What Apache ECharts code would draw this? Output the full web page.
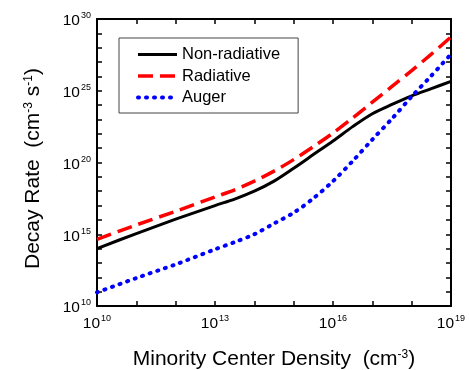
<!DOCTYPE html>
<html style="height: 100%">
    <head>
        <meta charset="utf-8">
        <title>Decay Rate</title>
        <script type="text/javascript" src="https://cdn.jsdelivr.net/npm/echarts@6/dist/echarts.min.js"></script>
    </head>
    <body style="height: 100%; margin: 0; background: #fff">
        <div id="container" style="width: 469px; height: 370px"></div>
        <script type="text/javascript">

        // exponents (log10)
        var densityExp = [10, 11, 12, 13, 13.5, 14, 14.5, 15, 15.5, 16, 16.5, 17, 17.5, 18, 18.5, 19];
        var nonRadiative = [14.0, 15.05, 16.05, 17.0, 17.45, 18.0, 18.7, 19.6, 20.55, 21.5, 22.5, 23.4, 24.05, 24.65, 25.15, 25.65];
        var radiative = [14.65, 15.65, 16.6, 17.6, 18.1, 18.7, 19.4, 20.2, 21.1, 22.05, 23.1, 24.2, 25.3, 26.4, 27.55, 28.75];
        var auger = [10.95, 11.95, 12.9, 13.95, 14.45, 15.0, 15.75, 16.5, 17.5, 18.7, 20.1, 21.6, 23.05, 24.6, 26.05, 27.55];

        var xLabels = [10, 13, 16, 19];
        var yLabels = [10, 15, 20, 25, 30];
        var names = ['Non-radiative', 'Radiative', 'Auger'];

        var font = 'Liberation Sans, Arial, sans-serif';

        function pairs(ys) {
            var out = [];
            for (var i = 0; i < densityExp.length; i++) {
                out.push([densityExp[i], ys[i]]);
            }
            return out;
        }

        var labelRich = {
            b: {fontSize: 15.5, fontFamily: font, color: '#000', lineHeight: 15, padding: [4, 0, 0, 0]},
            s: {fontSize: 9, fontFamily: font, color: '#000', verticalAlign: 'top', lineHeight: 9, padding: [0, 0, 0, 1]}
        };

        function powLabel(list) {
            return function (v) {
                if (list.indexOf(Math.round(v)) < 0 || Math.abs(v - Math.round(v)) > 1e-6) return '';
                return '{b|10}{s|' + Math.round(v) + '}';
            };
        }

        var nameRich = {
            s: {fontSize: 12, fontFamily: font, color: '#000', verticalAlign: 'top', lineHeight: 12}
        };

        function axisBase(extra) {
            var a = {
                type: 'value',
                interval: 1,
                axisLine: {show: true, onZero: false, lineStyle: {color: '#000', width: 2}},
                axisTick: {show: true, inside: true, length: 5, lineStyle: {color: '#000', width: 1.5}},
                splitLine: {show: false}
            };
            for (var k in extra) a[k] = extra[k];
            return a;
        }

        var dom = document.getElementById("container");
        var myChart = echarts.init(dom, null, {renderer: 'canvas'});

        var option = {
            backgroundColor: '#fff',
            animation: false,
            grid: {left: 97, right: 18, top: 19, bottom: 64, containLabel: false, outerBoundsMode: 'none'},
            legend: {
                left: 119,
                top: 38,
                orient: 'vertical',
                padding: [8, 18, 7, 17],
                itemGap: 4.5,
                itemWidth: 39,
                itemHeight: 14,
                borderColor: '#444',
                borderWidth: 1,
                itemStyle: {opacity: 0},
                textStyle: {fontSize: 16.5, fontFamily: font, color: '#000'},
                data: [
                    {name: names[0], lineStyle: {width: 3}},
                    {name: names[1], lineStyle: {width: 3.5}},
                    {name: names[2], lineStyle: {width: 4}}
                ]
            },
            xAxis: [
                axisBase({
                    min: 10, max: 19, position: 'bottom',
                    name: 'Minority Center Density  (cm{s|-3})',
                    nameLocation: 'middle',
                    nameGap: 43,
                    nameTextStyle: {fontSize: 21, fontFamily: font, color: '#000', rich: nameRich},
                    axisLabel: {margin: 8, formatter: powLabel(xLabels), rich: labelRich, showMinLabel: true, showMaxLabel: true}
                }),
                axisBase({min: 10, max: 19, position: 'top', axisLabel: {show: false}})
            ],
            yAxis: [
                axisBase({
                    min: 10, max: 30, position: 'left',
                    name: 'Decay Rate  (cm{s|-3} s{s|-1})',
                    nameLocation: 'middle',
                    nameGap: 53,
                    nameRotate: 90,
                    nameTextStyle: {fontSize: 21, fontFamily: font, color: '#000', rich: nameRich, padding: [0, 12, 0, 0]},
                    axisLabel: {margin: 6, formatter: powLabel(yLabels), rich: labelRich, showMinLabel: true, showMaxLabel: true}
                }),
                axisBase({min: 10, max: 30, position: 'right', axisLabel: {show: false}})
            ],
            series: [
                {
                    name: names[0], type: 'line', data: pairs(nonRadiative),
                    showSymbol: false, symbol: 'none', smooth: 0.3,
                    lineStyle: {color: '#000', width: 3},
                    itemStyle: {color: '#000'}
                },
                {
                    name: names[1], type: 'line', data: pairs(radiative),
                    showSymbol: false, symbol: 'none', smooth: 0.3,
                    lineStyle: {color: '#ff0000', width: 3.5, type: [15, 7]},
                    itemStyle: {color: '#ff0000'}
                },
                {
                    name: names[2], type: 'line', data: pairs(auger),
                    showSymbol: false, symbol: 'none', smooth: 0.3,
                    lineStyle: {color: '#0000ff', width: 4, type: [1, 7], cap: 'round'},
                    itemStyle: {color: '#0000ff'}
                }
            ]
        };

        if (option && typeof option === 'object') {
            myChart.setOption(option);
        }

        </script>
    </body>
</html>
